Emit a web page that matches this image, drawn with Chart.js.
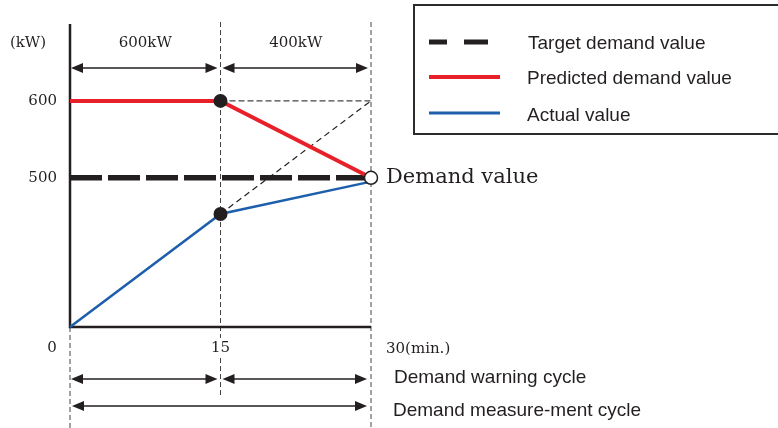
<!DOCTYPE html>
<html>
<head>
<meta charset="utf-8">
<script src="https://cdn.jsdelivr.net/npm/chart.js@4/dist/chart.umd.min.js"></script>
<style>
  html, body { margin: 0; padding: 0; background: #fff; }
  #wrap { width: 778px; height: 428px; position: relative; }
</style>
</head>
<body>
<div id="wrap"><canvas id="demandChart" width="778" height="428"></canvas></div>
<script>
// --- data ---
const minutes = [0, 15, 30];
const targetDemand = [500, 500, 500];
const predictedDemand = [600, 600, 500];
const actualValue = [306, 453, 495];
const projectionMinutes = [15, 30];
const projectionActual = [453, 600];
const projectionCeiling = [600, 600];
const yTickValues = [500, 600];
const xTickLabels = ['0', '15', '30(min.)'];
const intervalLabels = ['600kW', '400kW'];
const legendLabels = ['Target demand value', 'Predicted demand value', 'Actual value'];
const cycleLabels = ['Demand warning cycle', 'Demand measure-ment cycle'];
const demandLabel = 'Demand value';
const yUnitLabel = '(kW)';

const INK = '#231f20';
const RED = '#e8202a';
const BLUE = '#1d5fab';
const SERIF = '"DejaVu Serif", serif';
const SANS = '"Liberation Sans", Arial, sans-serif';

const toPts = (xs, ys) => xs.map((x, i) => ({ x, y: ys[i] }));

// --- helpers for the drawing plugin ---
function dashedLine(ctx, x1, y1, x2, y2, dash, color, w) {
  ctx.save();
  ctx.strokeStyle = color;
  ctx.lineWidth = w;
  ctx.setLineDash(dash);
  ctx.beginPath();
  ctx.moveTo(x1, y1);
  ctx.lineTo(x2, y2);
  ctx.stroke();
  ctx.restore();
}

function arrowHead(ctx, x, y, dir) {
  ctx.beginPath();
  ctx.moveTo(x, y);
  ctx.lineTo(x - dir * 12, y - 5);
  ctx.lineTo(x - dir * 12, y + 5);
  ctx.closePath();
  ctx.fill();
}

function doubleArrow(ctx, x1, x2, y) {
  ctx.save();
  ctx.strokeStyle = INK;
  ctx.fillStyle = INK;
  ctx.lineWidth = 1.3;
  ctx.beginPath();
  ctx.moveTo(x1 + 6, y);
  ctx.lineTo(x2 - 6, y);
  ctx.stroke();
  arrowHead(ctx, x1, y, -1);
  arrowHead(ctx, x2, y, 1);
  ctx.restore();
}

function text(ctx, str, x, y, font, align) {
  ctx.save();
  ctx.fillStyle = INK;
  ctx.font = font;
  ctx.textAlign = align || 'left';
  ctx.textBaseline = 'middle';
  ctx.fillText(str, x, y);
  ctx.restore();
}

// --- annotations: axes, guides, arrows, labels, legend box ---
const diagramPlugin = {
  id: 'diagram',
  beforeDatasetsDraw(chart) {
    const { ctx, scales: { x, y }, chartArea: a } = chart;
    const x0 = x.getPixelForValue(minutes[0]);
    const x15 = x.getPixelForValue(minutes[1]);
    const x30 = x.getPixelForValue(minutes[2]);
    // vertical guide lines (the one at 15 breaks around its tick label)
    dashedLine(ctx, x0, a.bottom, x0, 428, [5, 3], '#444', 1);
    dashedLine(ctx, x15, a.top - 2, x15, 338, [5, 3], '#444', 1);
    dashedLine(ctx, x15, 358, x15, 397, [5, 3], '#444', 1);
    dashedLine(ctx, x30, a.top - 2, x30, 428, [5, 3], '#444', 1);
    // axes
    ctx.save();
    ctx.strokeStyle = INK;
    ctx.lineWidth = 2.5;
    ctx.beginPath();
    ctx.moveTo(x0, a.top);
    ctx.lineTo(x0, a.bottom);
    ctx.lineTo(x30, a.bottom);
    ctx.stroke();
    ctx.restore();
  },
  afterDatasetsDraw(chart) {
    const { ctx, scales: { x, y }, chartArea: a } = chart;
    const x0 = x.getPixelForValue(minutes[0]);
    const x15 = x.getPixelForValue(minutes[1]);
    const x30 = x.getPixelForValue(minutes[2]);

    // interval arrows
    doubleArrow(ctx, x0 + 1, x15 - 3, 68);
    doubleArrow(ctx, x15 + 2, x30 - 3, 68);
    doubleArrow(ctx, x0 + 1, x15 - 3, 379);
    doubleArrow(ctx, x15 + 2, x30 - 4, 379);
    doubleArrow(ctx, x0 + 2, x30 - 4, 406);

    const serif = '15px ' + SERIF;
    text(ctx, yUnitLabel, 28, 43, serif, 'center');
    text(ctx, intervalLabels[0], (x0 + x15) / 2, 43, serif, 'center');
    text(ctx, intervalLabels[1], (x15 + x30) / 2, 43, serif, 'center');
    yTickValues.forEach(v => text(ctx, String(v), 57, y.getPixelForValue(v), serif, 'right'));
    text(ctx, xTickLabels[0], x0 - 18, 348, serif, 'center');
    text(ctx, xTickLabels[1], x15, 348, serif, 'center');
    text(ctx, xTickLabels[2], x30 + 15, 349, serif, 'left');
    text(ctx, demandLabel, x30 + 15, y.getPixelForValue(targetDemand[2]), '21px ' + SERIF, 'left');

    const sans = '19px ' + SANS;
    text(ctx, cycleLabels[0], 394, 378, sans, 'left');
    text(ctx, cycleLabels[1], 393, 411, sans, 'left');

    // legend box
    ctx.save();
    ctx.strokeStyle = '#2b2b2b';
    ctx.lineWidth = 2;
    ctx.strokeRect(414, 5, 380, 129);
    ctx.lineCap = 'butt';
    ctx.strokeStyle = INK;
    ctx.lineWidth = 5;
    ctx.beginPath();
    ctx.moveTo(429, 42); ctx.lineTo(447, 42);
    ctx.moveTo(464, 42); ctx.lineTo(488, 42);
    ctx.stroke();
    ctx.strokeStyle = RED;
    ctx.lineWidth = 4;
    ctx.beginPath(); ctx.moveTo(429, 77); ctx.lineTo(500, 77); ctx.stroke();
    ctx.strokeStyle = BLUE;
    ctx.lineWidth = 3;
    ctx.beginPath(); ctx.moveTo(429, 113); ctx.lineTo(500, 113); ctx.stroke();
    ctx.restore();
    text(ctx, legendLabels[0], 528, 44, sans, 'left');
    text(ctx, legendLabels[1], 527, 79, sans, 'left');
    text(ctx, legendLabels[2], 527, 116, sans, 'left');
  }
};

new Chart(document.getElementById('demandChart'), {
  type: 'scatter',
  data: {
    datasets: [
      {
        label: 'points',
        data: [{ x: minutes[1], y: predictedDemand[1] }, { x: minutes[1], y: actualValue[1] }],
        showLine: false,
        pointRadius: 7,
        pointBackgroundColor: INK,
        pointBorderColor: INK,
        pointBorderWidth: 0,
        clip: false,
        order: 0
      },
      {
        label: 'demand value point',
        data: [{ x: minutes[2], y: targetDemand[2] }],
        showLine: false,
        pointRadius: 6.5,
        pointBackgroundColor: '#fff',
        pointBorderColor: INK,
        pointBorderWidth: 1.5,
        clip: false,
        order: 0
      },
      {
        label: legendLabels[1],
        data: toPts(minutes, predictedDemand),
        showLine: true,
        borderColor: RED,
        borderWidth: 4,
        pointRadius: 0,
        clip: false,
        order: 1
      },
      {
        label: legendLabels[2],
        data: toPts(minutes, actualValue),
        showLine: true,
        borderColor: BLUE,
        borderWidth: 2.5,
        pointRadius: 0,
        clip: false,
        order: 2
      },
      {
        label: legendLabels[0],
        data: toPts(minutes, targetDemand),
        showLine: true,
        borderColor: INK,
        borderWidth: 5.5,
        borderDash: [32, 6],
        borderCapStyle: 'butt',
        pointRadius: 0,
        clip: false,
        order: 3
      },
      {
        label: 'projection',
        data: toPts(projectionMinutes, projectionActual),
        showLine: true,
        borderColor: INK,
        borderWidth: 1.2,
        borderDash: [6, 4],
        pointRadius: 0,
        order: 4
      },
      {
        label: 'ceiling',
        data: toPts(projectionMinutes, projectionCeiling),
        showLine: true,
        borderColor: '#444',
        borderWidth: 1.2,
        borderDash: [6, 3],
        pointRadius: 0,
        order: 4
      }
    ]
  },
  options: {
    responsive: false,
    animation: false,
    layout: { padding: { left: 70, right: 407, top: 24, bottom: 101 } },
    scales: {
      x: { type: 'linear', min: 0, max: 30, display: false },
      y: { type: 'linear', min: 306, max: 700, display: false }
    },
    plugins: { legend: { display: false }, tooltip: { enabled: false } }
  },
  plugins: [diagramPlugin]
});
</script>
</body>
</html>
